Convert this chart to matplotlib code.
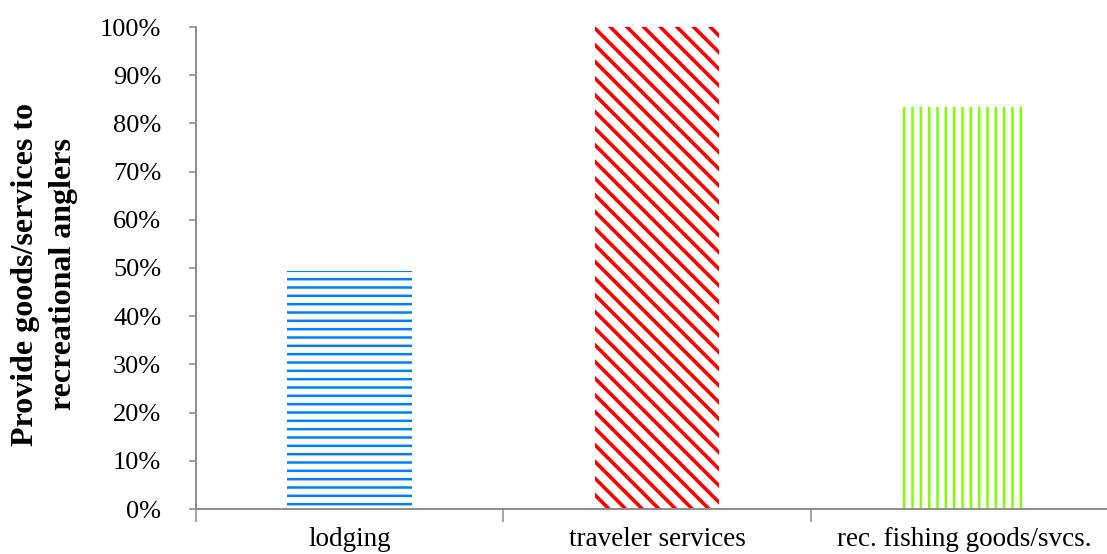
import matplotlib
matplotlib.use('Agg')
import matplotlib.pyplot as plt
from matplotlib.ticker import PercentFormatter

# ── Data ──────────────────────────────────────────────────────────────────────
categories = ['lodging', 'traveler services', 'rec. fishing goods/svcs.']
shares     = [49.4, 100.0, 83.4]
y_ticks    = list(range(0, 101, 10))

# ── Styles ────────────────────────────────────────────────────────────────────
colors   = ['#0080FF', '#FF0000', '#80FF00']
hatches  = ['--', '\\\\', '||']
hatch_lw = [1.8, 2.6, 1.8]
AXIS_C   = '#8C8C8C'

plt.rcParams['font.family'] = ['Liberation Serif', 'DejaVu Serif']

fig = plt.figure(figsize=(11.07, 5.54), dpi=100)
# axes runs past the right edge, as in the original
ax = fig.add_axes([196 / 1107, 45 / 554, 922 / 1107, 482 / 554])

x = list(range(len(categories)))
for i, (v, c, h, lw) in enumerate(zip(shares, colors, hatches, hatch_lw)):
    with plt.rc_context({'hatch.linewidth': lw}):
        bar = ax.bar(i, v, width=0.405, color='white', edgecolor=c,
                     hatch=h, linewidth=0, zorder=2)
    for p in bar:
        if hasattr(p, 'set_hatch_linewidth'):
            p.set_hatch_linewidth(lw)

ax.set_xlim(-0.5, len(categories) - 0.5)
ax.set_ylim(0, 100)
ax.set_yticks(y_ticks)
ax.yaxis.set_major_formatter(PercentFormatter(decimals=0))

# category boundaries carry the tick marks, labels sit at the centres
ax.set_xticks([i - 0.5 for i in range(len(categories) + 1)])
ax.set_xticklabels([])
ax.set_xticks(x, minor=True)
ax.set_xticklabels(categories, minor=True)
ax.tick_params(axis='x', which='major', length=9, width=1.1, color=AXIS_C)
ax.tick_params(axis='x', which='minor', length=0, pad=13, labelsize=19.5)
ax.tick_params(axis='y', length=5, width=1.1, color=AXIS_C, pad=20,
               labelsize=19)

for side in ['top', 'right']:
    ax.spines[side].set_visible(False)
for side in ['left', 'bottom']:
    ax.spines[side].set_color(AXIS_C)
    ax.spines[side].set_linewidth(1.4)

fig.text(0.040, (554 - 274) / 554,
         'Provide goods/services to\nrecreational anglers',
         rotation=90, ha='center', va='center', fontsize=23,
         fontweight='bold', linespacing=1.4)

fig.savefig('out.png', dpi=100)
